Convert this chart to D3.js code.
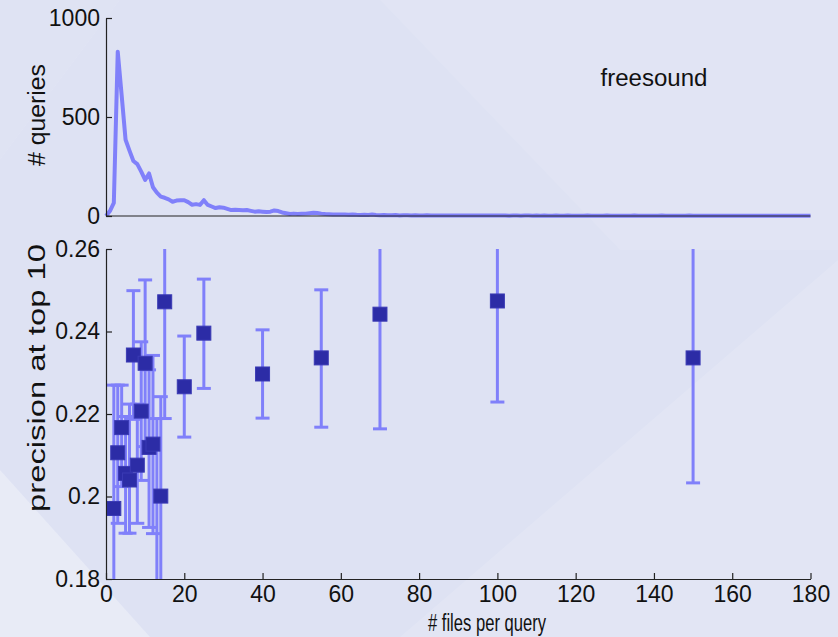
<!DOCTYPE html>
<html>
  <head>
    <title>freesound precision</title>
    <script src="https://d3js.org/d3.v7.min.js"></script>
    <style type="text/css">
      body {
          margin: 0;
          background: #dfe3f4;
      }
      text {
          font-family: "Liberation Sans", Arial, sans-serif;
          fill: #111;
      }
      .axis path, .axis line {
          stroke: #222;
          stroke-width: 1.2px;
      }
    </style>
  </head>
  <body>
    <script>

        // Top panel: number of queries for each # files per query (x = 0 .. 180)
        var queryCounts = [
            0, 25, 66, 830, 610, 385, 330, 278, 262, 224,
            182, 215, 145, 118, 98, 92, 84, 72, 78, 80,
            80, 70, 57, 60, 56, 80, 56, 48, 40, 44,
            42, 36, 30, 31, 30, 29, 30, 26, 22, 24,
            22, 20, 22, 28, 25, 18, 14, 10, 12, 10,
            11, 12, 14, 16, 15, 12, 10, 9, 8, 8,
            7, 7, 6, 8, 6, 5, 6, 5, 7, 5,
            4, 5, 4, 4, 5, 3, 4, 4, 3, 4,
            3, 3, 4, 3, 3, 2, 3, 3, 2, 3,
            3, 2, 3, 2, 2, 3, 2, 2, 2, 3,
            2, 2, 2, 1, 2, 2, 1, 2, 2, 1,
            2, 1, 2, 1, 1, 2, 1, 1, 2, 1,
            1, 1, 1, 2, 1, 1, 1, 1, 2, 1,
            1, 1, 1, 1, 1, 2, 1, 1, 1, 1,
            1, 1, 2, 1, 1, 1, 1, 1, 1, 2,
            1, 1, 1, 1, 1, 1, 1, 1, 1, 1,
            1, 1, 1, 1, 1, 1, 1, 1, 1, 1,
            1, 1, 1, 1, 1, 1, 1, 1, 1, 1,
            1
        ];

        // Bottom panel: precision at top 10 with error bars
        var filesPerQuery = [2, 3, 4, 5, 6, 7, 8, 9, 10, 11, 12, 13, 14, 15, 20, 25, 40, 55, 70, 100, 150];
        var precMean = [0.1971, 0.2106, 0.2167, 0.2056, 0.2040, 0.2343, 0.2076, 0.2207, 0.2323, 0.2119, 0.2127,
                        0.1700, 0.2001, 0.2472, 0.2266, 0.2396, 0.2297, 0.2336, 0.2442, 0.2474, 0.2336];
        var precLow = [0.1670, 0.1935, 0.2024, 0.1911, 0.1911, 0.2187, 0.1935, 0.2039, 0.2121, 0.1925, 0.1910,
                       0.1400, 0.1760, 0.2189, 0.2144, 0.2262, 0.2190, 0.2168, 0.2164, 0.2229, 0.2033];
        var precHigh = [0.2270, 0.2270, 0.2270, 0.2194, 0.2224, 0.2499, 0.2224, 0.2375, 0.2525, 0.2307, 0.2342,
                        0.2189, 0.2242, 0.2755, 0.2389, 0.2527, 0.2404, 0.2501, 0.2720, 0.2719, 0.2639];

        var xTicks = [0, 20, 40, 60, 80, 100, 120, 140, 160, 180];
        var yTicksTop = [0, 500, 1000];
        var yTicksBottom = [0.18, 0.2, 0.22, 0.24, 0.26];

        var svgWidth = 838;
        var svgHeight = 637;
        var lineColor = "#8080fa";
        var markerColor = "#2c2ca6";

        var svg = d3.select("body")
                    .append("svg")
                    .attr("width", svgWidth)
                    .attr("height", svgHeight);

        drawBackground(svg);

        // Shared x scale
        var xScale = d3.scaleLinear()
                       .domain([0, 180])
                       .range([106, 810.5]);

        var yTop = d3.scaleLinear()
                     .domain([0, 1000])
                     .range([216, 18]);

        var yBottom = d3.scaleLinear()
                        .domain([0.18, 0.26])
                        .range([579, 249]);

        topPanel(svg, xScale, yTop);
        bottomPanel(svg, xScale, yBottom);

        function drawBackground(svg) {
            svg.append("rect")
               .attr("width", svgWidth)
               .attr("height", svgHeight)
               .attr("fill", "#dee2f3");

            // faint light streaks of the slide background
            var shapes = [
                {pts: [[380, 0], [838, 0], [838, 250], [620, 250]], op: 0.09},
                {pts: [[838, 260], [838, 637], [400, 637]], op: 0.13},
                {pts: [[0, 470], [150, 637], [0, 637]], op: 0.3},
                {pts: [[0, 0], [120, 0], [0, 160]], op: 0.05}
            ];
            svg.selectAll(".bg")
               .data(shapes)
               .enter()
               .append("polygon")
               .attr("class", "bg")
               .attr("points", function(d) { return d.pts.join(" "); })
               .attr("fill", "#ffffff")
               .attr("opacity", function(d) { return d.op; });
        }

        function topPanel(svg, xScale, yScale) {

            var line = d3.line()
                         .x(function(d, i) { return xScale(i); })
                         .y(function(d) { return yScale(d); });

            svg.append("path")
               .datum(queryCounts)
               .attr("d", line)
               .attr("fill", "none")
               .attr("stroke", lineColor)
               .attr("stroke-width", 4)
               .attr("stroke-linejoin", "round");

            // y axis with inward ticks
            var yAxis = d3.axisRight(yScale)
                          .tickValues(yTicksTop)
                          .tickSize(6)
                          .tickSizeOuter(0)
                          .tickFormat(d3.format("d"));

            var g = svg.append("g")
                       .attr("class", "axis")
                       .attr("transform", "translate(" + xScale(0) + ",0)")
                       .call(yAxis);
            g.selectAll("text")
             .attr("x", -6)
             .attr("text-anchor", "end")
             .attr("font-size", "23px");

            // bottom line of the top panel
            svg.append("line")
               .attr("x1", xScale(0))
               .attr("x2", xScale(180))
               .attr("y1", yScale(0))
               .attr("y2", yScale(0))
               .attr("stroke", "#222")
               .attr("stroke-width", 1.2);

            svg.append("text")
               .attr("transform", "translate(45," + (yScale(500) - 2) + ") rotate(-90)")
               .attr("text-anchor", "middle")
               .attr("font-size", "23px")
               .attr("textLength", 102)
               .attr("lengthAdjust", "spacingAndGlyphs")
               .text("# queries");

            svg.append("text")
               .attr("x", 654)
               .attr("y", 86)
               .attr("text-anchor", "middle")
               .attr("font-size", "23px")
               .attr("textLength", 107)
               .attr("lengthAdjust", "spacingAndGlyphs")
               .text("freesound");
        }

        function bottomPanel(svg, xScale, yScale) {

            svg.append("clipPath")
               .attr("id", "plotClip")
               .append("rect")
               .attr("x", xScale(0))
               .attr("y", yScale(0.26))
               .attr("width", xScale(180) - xScale(0))
               .attr("height", yScale(0.18) - yScale(0.26));

            var plot = svg.append("g")
                          .attr("clip-path", "url(#plotClip)");

            var idx = d3.range(filesPerQuery.length);
            var capHalf = 7;

            // vertical error lines
            plot.selectAll(".err")
                .data(idx)
                .enter()
                .append("line")
                .attr("class", "err")
                .attr("x1", function(i) { return xScale(filesPerQuery[i]); })
                .attr("x2", function(i) { return xScale(filesPerQuery[i]); })
                .attr("y1", function(i) { return yScale(precLow[i]); })
                .attr("y2", function(i) { return yScale(precHigh[i]); })
                .attr("stroke", lineColor)
                .attr("stroke-width", 3);

            // caps
            ["low", "high"].forEach(function(side) {
                plot.selectAll(".cap-" + side)
                    .data(idx)
                    .enter()
                    .append("line")
                    .attr("class", "cap-" + side)
                    .attr("x1", function(i) { return xScale(filesPerQuery[i]) - capHalf; })
                    .attr("x2", function(i) { return xScale(filesPerQuery[i]) + capHalf; })
                    .attr("y1", function(i) { return yScale(side == "low" ? precLow[i] : precHigh[i]); })
                    .attr("y2", function(i) { return yScale(side == "low" ? precLow[i] : precHigh[i]); })
                    .attr("stroke", lineColor)
                    .attr("stroke-width", 3);
            });

            // square markers
            var size = 14;
            plot.selectAll(".marker")
                .data(idx)
                .enter()
                .append("rect")
                .attr("class", "marker")
                .attr("x", function(i) { return xScale(filesPerQuery[i]) - size / 2; })
                .attr("y", function(i) { return yScale(precMean[i]) - size / 2; })
                .attr("width", size)
                .attr("height", size)
                .attr("fill", markerColor)
                .attr("stroke", "#3a3ab4")
                .attr("stroke-width", 1);

            // x axis (ticks point up into the plot)
            var xAxis = d3.axisTop(xScale)
                          .tickValues(xTicks)
                          .tickSize(6)
                          .tickSizeOuter(0)
                          .tickFormat(d3.format("d"));

            var gx = svg.append("g")
                        .attr("class", "axis")
                        .attr("transform", "translate(0," + yScale(0.18) + ")")
                        .call(xAxis);
            gx.selectAll("text")
              .attr("y", 7)
              .attr("dy", "0.71em")
              .attr("font-size", "23px");

            // y axis (ticks point right into the plot)
            var yAxis = d3.axisRight(yScale)
                          .tickValues(yTicksBottom)
                          .tickSize(6)
                          .tickSizeOuter(0)
                          .tickFormat(function(d) { return d3.format("")(+d.toFixed(2)); });

            var gy = svg.append("g")
                        .attr("class", "axis")
                        .attr("transform", "translate(" + xScale(0) + ",0)")
                        .call(yAxis);
            gy.selectAll("text")
              .attr("x", -6)
              .attr("text-anchor", "end")
              .attr("font-size", "23px");

            // axis labels
            svg.append("text")
               .attr("x", 487)
               .attr("y", 631)
               .attr("text-anchor", "middle")
               .attr("font-size", "23px")
               .attr("textLength", 118)
               .attr("lengthAdjust", "spacingAndGlyphs")
               .text("# files per query");

            svg.append("text")
               .attr("transform", "translate(45,378) rotate(-90)")
               .attr("text-anchor", "middle")
               .attr("font-size", "23px")
               .attr("textLength", 268)
               .attr("lengthAdjust", "spacingAndGlyphs")
               .text("precision at top 10");
        }

    </script>
  </body>
</html>
